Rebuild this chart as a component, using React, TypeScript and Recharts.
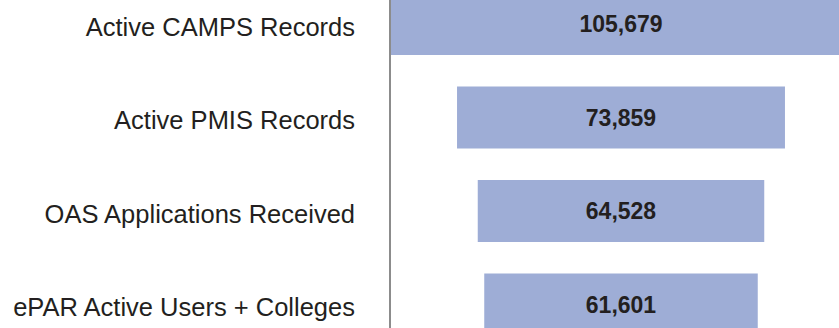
import React from "react";
import { BarChart, Bar, XAxis, YAxis, LabelList } from "recharts";

const categories = [
  "Active CAMPS Records",
  "Active PMIS Records",
  "OAS Applications Received",
  "ePAR Active Users + Colleges",
];
const values = [105679, 73859, 64528, 61601];

const data = categories.map((name, i) => ({ name, value: values[i] }));

const fmt = (v: any) => Number(v).toLocaleString("en-US");

export default function App() {
  return (
    <div
      style={{
        position: "absolute",
        left: 0,
        top: 0,
        width: 839,
        height: 328,
        overflow: "hidden",
        background: "#fff",
      }}
    >
      <div style={{ position: "absolute", left: 0, top: -23 }}>
        <BarChart
          width={900}
          height={374}
          data={data}
          layout="vertical"
          margin={{ top: 0, right: 0, bottom: 0, left: 0 }}
          barSize={62}
        >
          <XAxis
            type="number"
            hide
            domain={[-52027, 62838]}
            allowDataOverflow
          />
          <YAxis
            type="category"
            dataKey="name"
            width={390}
            axisLine={{ stroke: "#8c8c8c", strokeWidth: 2 }}
            tickLine={false}
            tickSize={0}
            tickMargin={35}
            tick={{
              fill: "#231f20",
              fontSize: 25.5,
              dy: 3,
              fontFamily: "Liberation Sans, Arial, sans-serif",
            }}
          />
          <Bar
            dataKey={(d: any) => [-d.value / 2, d.value / 2]}
            fill="#9eadd6"
            isAnimationActive={false}
          >
            <LabelList
              dataKey="value"
              position="center"
              formatter={fmt}
              style={{
                fill: "#231f20",
                fontSize: 23,
                fontWeight: "bold",
                fontFamily: "Liberation Sans, Arial, sans-serif",
              }}
            />
          </Bar>
        </BarChart>
      </div>
    </div>
  );
}
